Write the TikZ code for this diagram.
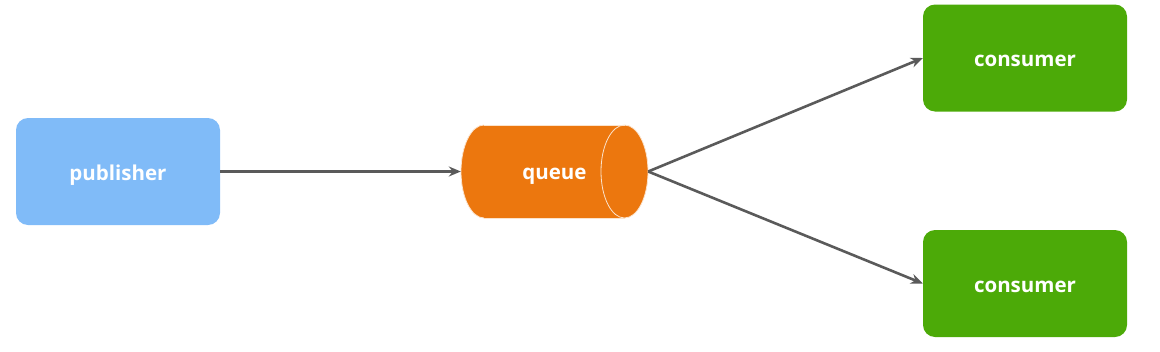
\documentclass[tikz,border=0pt]{standalone}
\usepackage{fontspec}
\setmainfont{Open Sans}
\usetikzlibrary{arrows.meta}
\definecolor{pubblue}{HTML}{80BBF8}
\definecolor{qorange}{HTML}{EC770E}
\definecolor{qedge}{HTML}{FBE3CC}
\definecolor{congreen}{HTML}{4CAA08}
\definecolor{arrowgray}{HTML}{5A5A5A}
\newcommand{\lbl}[2]{\raisebox{-#1}[0pt][0pt]{#2}}
\tikzset{
  box/.style={rounded corners=12pt, minimum width=204pt, minimum height=107pt, inner sep=0pt,
    text=white, font=\bfseries\fontsize{20.5}{24}\selectfont},
  pubbox/.style={box, fill=pubblue},
  conbox/.style={box, fill=congreen},
  qlabel/.style={minimum width=187pt, minimum height=93pt, inner sep=0pt, text=white,
    font=\bfseries\fontsize{20.5}{24}\selectfont},
  conn/.style={draw=arrowgray, line width=2.6pt, -{Stealth[length=12pt,width=10pt]}},
}
\begin{document}
\begin{tikzpicture}[x=1pt,y=-1pt]
\useasboundingbox (0,0) rectangle (1160,351);
\node[pubbox] (pub) at (118,171.5) {\lbl{9pt}{publisher}};
\node[conbox] (c1) at (1025,58) {\lbl{8.7pt}{consumer}};
\node[conbox] (c2) at (1025,283.5) {\lbl{8.7pt}{consumer}};
% queue cylinder
\fill[qorange] (484,125) -- (624.5,125) arc[start angle=-90,end angle=90,x radius=23.5,y radius=46.5]
  -- (484,218) arc[start angle=90,end angle=270,x radius=23,y radius=46.5] -- cycle;
\draw[qedge, line width=0.8pt] (484,125) -- (624.5,125) (484,218) -- (624.5,218);
\draw[qedge, line width=0.8pt] (624.5,171.5) ellipse[x radius=23.5, y radius=46.5];
\draw[qedge, line width=0.8pt] (484,125) arc[start angle=270,end angle=90,x radius=23,y radius=46.5];
\node[qlabel] (queue) at (554.5,171.5) {\lbl{8pt}{queue}};
\draw[conn] (pub.east) -- (queue.west);
\draw[conn] (queue.east) -- (c1.west);
\draw[conn] (queue.east) -- (c2.west);
\end{tikzpicture}
\end{document}
